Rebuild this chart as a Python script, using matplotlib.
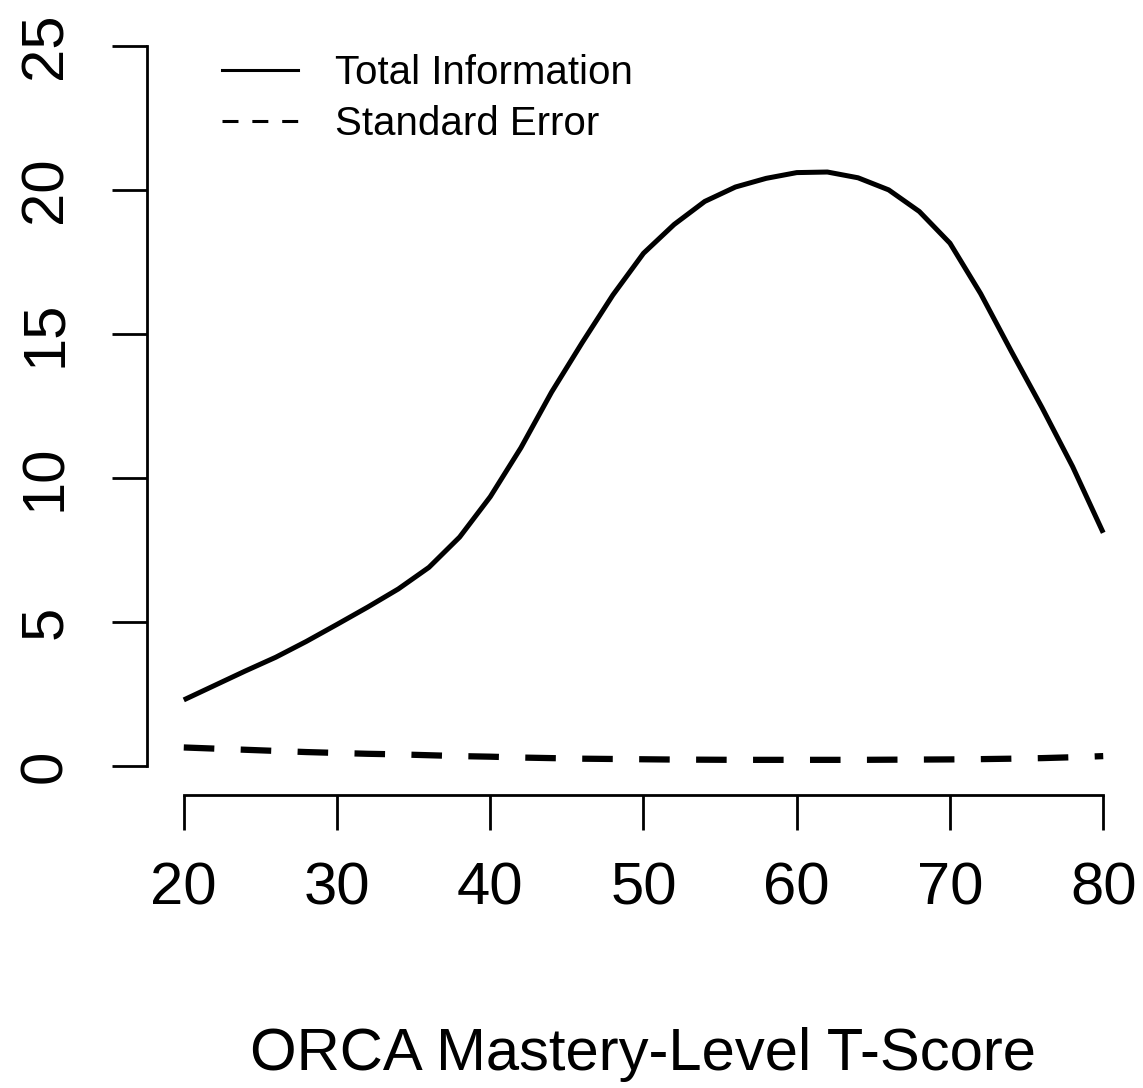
import matplotlib
matplotlib.use("Agg")
import matplotlib.pyplot as plt
from matplotlib.lines import Line2D

# ---- data ----
t_score = [20, 22, 24, 26, 28, 30, 32, 34, 36, 38, 40, 42, 44, 46, 48, 50,
           52, 54, 56, 58, 60, 62, 64, 66, 68, 70, 72, 74, 76, 78, 80]
total_info = [2.3, 2.8, 3.3, 3.78, 4.33, 4.92, 5.52, 6.15, 6.9, 7.95, 9.35, 11.05, 12.98,
              14.7, 16.35, 17.8, 18.8, 19.6, 20.1, 20.4, 20.6, 20.62, 20.42, 20.0,
              19.25, 18.15, 16.4, 14.4, 12.45, 10.4, 8.1]
std_error = [0.65, 0.61, 0.57, 0.53, 0.49, 0.46, 0.43, 0.41, 0.38, 0.35, 0.33, 0.30,
             0.28, 0.26, 0.25, 0.24, 0.23, 0.225, 0.22, 0.22, 0.22, 0.22, 0.22, 0.225,
             0.23, 0.235, 0.245, 0.26, 0.28, 0.31, 0.35]
x_ticks = [20, 30, 40, 50, 60, 70, 80]
y_ticks = [0, 5, 10, 15, 20, 25]
x_label = "ORCA Mastery-Level T-Score"
legend_labels = ["Total Information", "Standard Error"]

plt.rcParams['font.family'] = ['Liberation Sans', 'DejaVu Sans']

W, H = 1143, 1088
fig = plt.figure(figsize=(W / 100, H / 100), dpi=100)
ax = fig.add_axes([147 / W, (H - 795) / H, (1140 - 147) / W, (795 - 17) / H])

ax.plot(t_score, total_info, color='black', lw=3.6, solid_capstyle='butt',
        solid_joinstyle='round')
lw_d = 4.5
ax.plot(t_score, std_error, color='black', lw=lw_d,
        linestyle=(0, (22 / lw_d, 19 / lw_d)), dash_capstyle='butt')

ax.set_xlim(17.6, 82.4)
ax.set_ylim(-1, 26)

for s in ['top', 'right']:
    ax.spines[s].set_visible(False)
ax.spines['left'].set_bounds(0, 25)
ax.spines['bottom'].set_bounds(20, 80)
for s in ['left', 'bottom']:
    ax.spines[s].set_linewidth(2)
    ax.spines[s].set_color('black')

ax.set_xticks(x_ticks)
ax.set_yticks(y_ticks)
ax.set_xticklabels([str(v) for v in x_ticks])
ax.set_yticklabels([str(v) for v in y_ticks], rotation=90, va='center')
ax.tick_params(axis='both', direction='out', length=25, width=2, color='black',
               labelsize=43)
ax.tick_params(axis='x', pad=23)
ax.tick_params(axis='y', pad=28)

fig.text(643 / W, 1 - 1070 / H, x_label, fontsize=43, ha='center', va='baseline')

lw_l = 2.2
handles = [Line2D([0], [0], color='black', lw=lw_l),
           Line2D([0], [0], color='black', lw=lw_l,
                  linestyle=(0, (11.5 / lw_l, 10 / lw_l)), dash_capstyle='butt')]
ax.legend(handles, legend_labels, loc='upper left',
          bbox_to_anchor=(222 / W, 1 - 54 / H), bbox_transform=fig.transFigure,
          frameon=False, fontsize=29, handlelength=1.89, handletextpad=0.92,
          labelspacing=0.33, borderpad=0, borderaxespad=0)

fig.savefig("out.png", dpi=100)
